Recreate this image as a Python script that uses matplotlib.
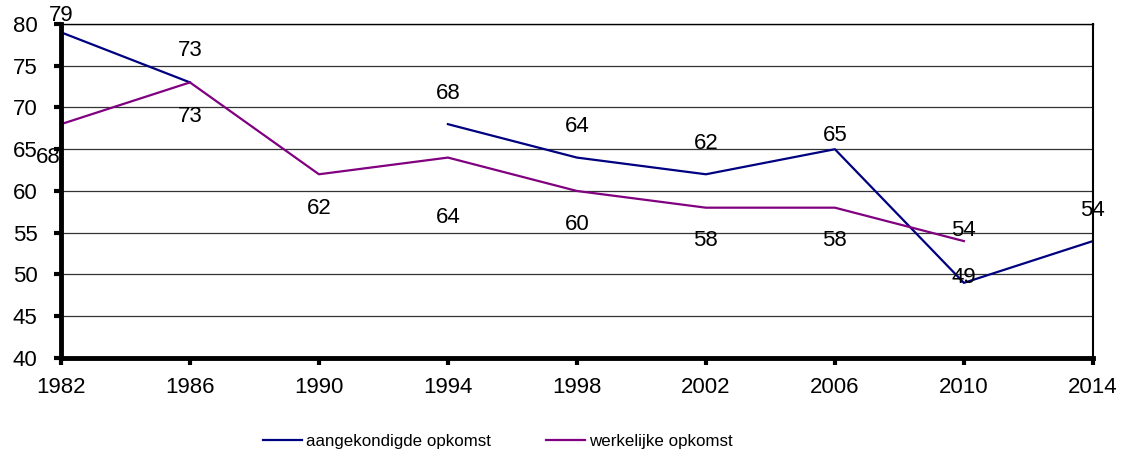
import numpy as np
import matplotlib.pyplot as plt

plt.rcParams['font.family'] = ['Liberation Sans', 'DejaVu Sans']
plt.rcParams['font.size'] = 16

years = [1982, 1986, 1990, 1994, 1998, 2002, 2006, 2010, 2014]
aangekondigd = [79, 73, np.nan, 68, 64, 62, 65, 49, 54]
werkelijk = [68, 73, 62, 64, 60, 58, 58, 54, np.nan]

# label offsets (pixels) zoals in de excel grafiek
off_blauw = [(0, 17), (0, 32), None, (0, 31), (0, 31), (0, 31), (0, 14), (0, 5), (0, 31)]
off_paars = [(-13, -33), (0, -34), (0, -34), (0, -60), (0, -34), (0, -33), (0, -33), (0, 11), None]

fig = plt.figure(figsize=(11.29, 4.57), dpi=100)
ax = fig.add_axes([0.054, 0.2166, 0.914, 0.731])

for y in range(45, 81, 5):
    ax.axhline(y, color='#333333', lw=0.9, zorder=1)

l1, = ax.plot(years, aangekondigd, color='#000080', lw=1.6, zorder=3, label='aangekondigde opkomst')
l2, = ax.plot(years, werkelijk, color='#800080', lw=1.6, zorder=3, label='werkelijke opkomst')

for x, v, o in zip(years, aangekondigd, off_blauw):
    if o is not None:
        ax.annotate(str(int(v)), (x, v), xytext=o, textcoords='offset pixels',
                    ha='center', va='center', zorder=4, annotation_clip=False)
for x, v, o in zip(years, werkelijk, off_paars):
    if o is not None:
        ax.annotate(str(int(v)), (x, v), xytext=o, textcoords='offset pixels',
                    ha='center', va='center', zorder=4, annotation_clip=False)

ax.set_xlim(1982, 2014)
ax.set_ylim(40, 80)
ax.set_xticks(years)
ax.set_yticks(range(40, 81, 5))
ax.tick_params(axis='both', direction='out', length=5, width=3)
ax.tick_params(axis='y', pad=12)
ax.tick_params(axis='x', pad=9)
ax.spines['left'].set_linewidth(3.5)
ax.spines['bottom'].set_linewidth(3.5)
ax.spines['right'].set_linewidth(1.5)
ax.spines['top'].set_linewidth(1.0)
for s in ax.spines.values():
    s.set_zorder(5)

fig.legend(handles=[l1, l2], loc='center', bbox_to_anchor=(0.441, 0.033), ncol=2,
           frameon=False, handlelength=2.3, handletextpad=0.2, columnspacing=3.3, fontsize=12.2)

plt.savefig('out.png', dpi=100)
plt.close()
